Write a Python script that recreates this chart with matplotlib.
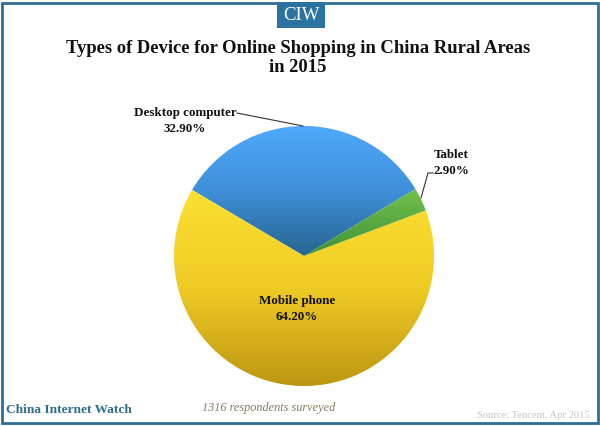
import matplotlib
matplotlib.use("Agg")
import matplotlib.pyplot as plt
import matplotlib.patches as mpatches
from matplotlib.colors import LinearSegmentedColormap
import numpy as np

labels = ['Desktop computer', 'Mobile phone', 'Tablet']
values = [32.9, 64.2, 2.9]
value_labels = ['32.90%', '64.20%', '2.90%']
title = 'Types of Device for Online Shopping in China Rural Areas\nin 2015'

W, H = 600, 426

def fx(px):
    return px / W

def fy(py):
    return 1 - py / H

fig = plt.figure(figsize=(6, 4.26), dpi=100, facecolor='white')

# Outer frame and logo box, kept under the pie axes
fig.add_artist(mpatches.Rectangle((fx(2), fy(423)), 596 / W, 420 / H, transform=fig.transFigure,
                                  facecolor='white', edgecolor='#2f6f96', linewidth=2, zorder=-2))
fig.add_artist(mpatches.Rectangle((fx(277), fy(28)), 48 / W, 26 / H, transform=fig.transFigure,
                                  facecolor='#2a73a0', edgecolor='none', zorder=-1))
fig.text(fx(301), fy(15), 'CIW', color='white', fontsize=13.5, family='Liberation Serif', ha='center', va='center')

fig.text(fx(298), fy(58), title, color='#111111', fontsize=13.4, family='Liberation Serif', fontweight='bold',
         ha='center', va='center', linespacing=1.12)

# Pie centred at (304, 256) with radius 130 px
ax = fig.add_axes([fx(174), fy(386), 260 / W, 260 / H])
wedges, _ = ax.pie(values, startangle=31, counterclock=True, radius=1)
ax.axis('off')

# Vertical gradient for each wedge: colour, then extent top and bottom in data units
gradients = [
    (['#4fa9fb', '#3f8fd8', '#27658f'], 1.0, 0.0),
    (['#fbe033', '#efcb25', '#bd9612'], 0.51, -1.0),
    (['#74c24a', '#3f8f3a'], 0.51, 0.0),
]
for wedge, (colors, top, bottom) in zip(wedges, gradients):
    cmap = LinearSegmentedColormap.from_list('w', colors)
    grad = np.linspace(0, 1, 256).reshape(-1, 1)
    wedge.set_facecolor('none')
    wedge.set_edgecolor('none')
    im = ax.imshow(grad, cmap=cmap, aspect='auto', extent=(-1, 1, bottom, top), zorder=1, interpolation='bilinear')
    im.set_clip_path(wedge)
ax.set_xlim(-1, 1)
ax.set_ylim(-1, 1)

# Labels and leader lines
label_font = dict(color='#111111', fontsize=9.4, family='Liberation Serif', fontweight='bold', ha='center', va='center')
fig.text(fx(185), fy(121), labels[0] + '\n' + value_labels[0], linespacing=1.35, **label_font)
fig.text(fx(297), fy(309), labels[1] + '\n' + value_labels[1], linespacing=1.35, **label_font)
fig.text(fx(451), fy(163), labels[2] + '\n' + value_labels[2], linespacing=1.35, **label_font)

fig.add_artist(plt.Line2D([fx(237), fx(303)], [fy(113), fy(126)], color='#333333', linewidth=0.8))
fig.add_artist(plt.Line2D([fx(433), fx(428), fx(421)], [fy(173), fy(173), fy(198)], color='#333333', linewidth=0.8))

# Footer
fig.text(fx(6), fy(410), 'China Internet Watch', color='#2f6d8c', fontsize=9.6, family='Liberation Serif',
         fontweight='bold', ha='left', va='center')
fig.text(fx(202), fy(408), '1316 respondents surveyed', color='#857a5a', fontsize=8.8, family='Liberation Serif',
         style='italic', ha='left', va='center')
fig.text(fx(590), fy(415), 'Source: Tencent, Apr 2015', color='#c4c4c4', fontsize=7.6, family='Liberation Serif',
         ha='right', va='center')

fig.savefig('out.png', dpi=100)
